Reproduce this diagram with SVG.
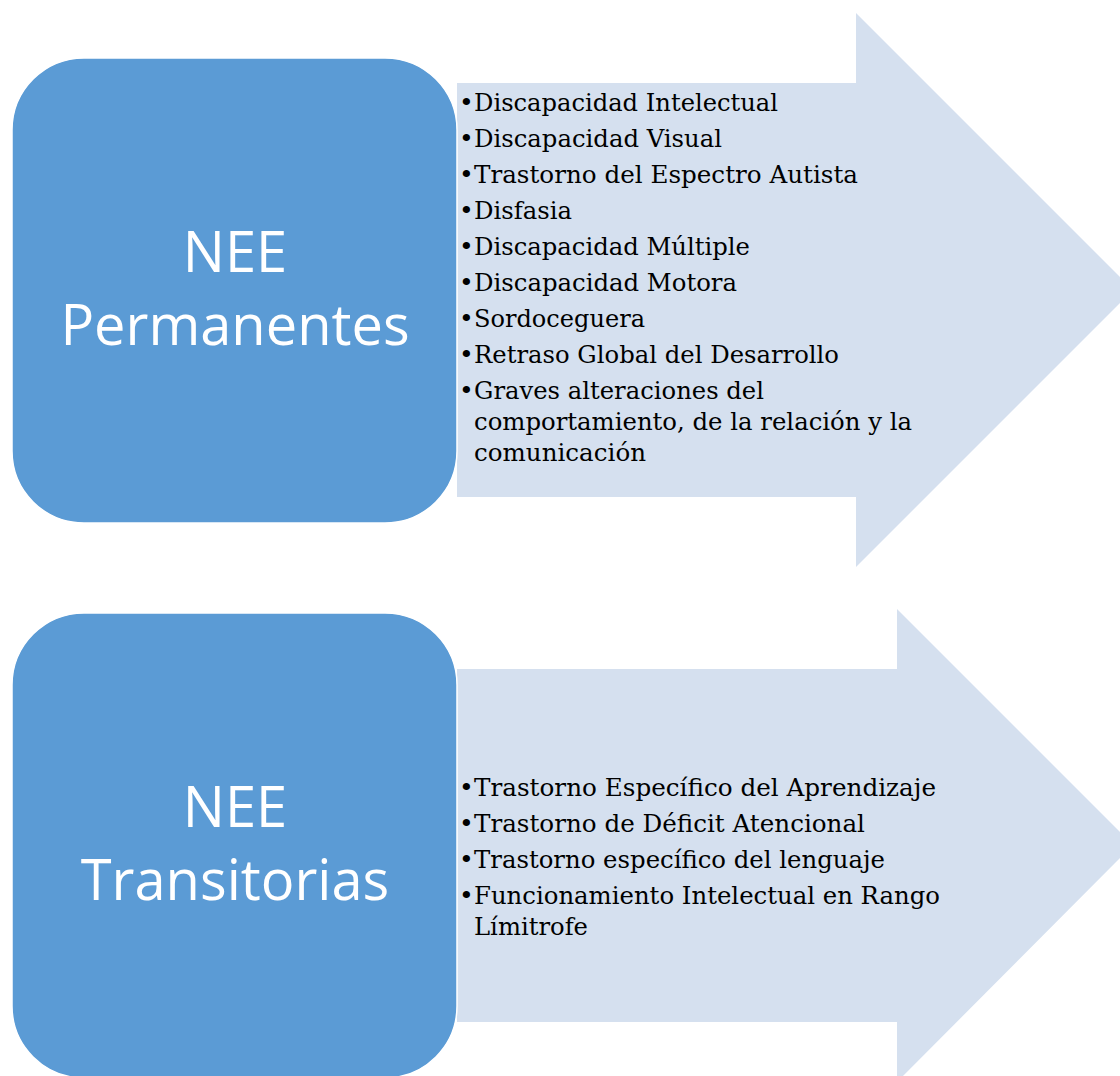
<svg xmlns="http://www.w3.org/2000/svg" width="1120" height="1076" viewBox="0 0 1120 1076">
  <style>
    .arrow { fill: #D5E0EF; }
    .box { fill: #5B9BD5; stroke: #FFFFFF; stroke-width: 1.5; }
    .title { font-family: "Open Sans", "Liberation Sans", sans-serif; font-size: 56px; fill: #FFFFFF; text-anchor: middle; }
    .item { font-family: "DejaVu Serif", "Liberation Serif", serif; font-size: 25px; fill: #000000; }
  </style>
  <rect width="1120" height="1076" fill="#FFFFFF"/>

  <g id="list-permanentes">
    <polygon class="arrow" points="457,83 856,83 856,13 1133,290 856,567 856,497 457,497"/>
    <g class="item">
      <text x="459" y="111">•</text><text x="474" y="111" textLength="304" lengthAdjust="spacingAndGlyphs">Discapacidad Intelectual</text>
      <text x="459" y="147">•</text><text x="474" y="147" textLength="248" lengthAdjust="spacingAndGlyphs">Discapacidad Visual</text>
      <text x="459" y="183">•</text><text x="474" y="183" textLength="384" lengthAdjust="spacingAndGlyphs">Trastorno del Espectro Autista</text>
      <text x="459" y="219">•</text><text x="474" y="219" textLength="98" lengthAdjust="spacingAndGlyphs">Disfasia</text>
      <text x="459" y="255">•</text><text x="474" y="255" textLength="276" lengthAdjust="spacingAndGlyphs">Discapacidad Múltiple</text>
      <text x="459" y="291">•</text><text x="474" y="291" textLength="263" lengthAdjust="spacingAndGlyphs">Discapacidad Motora</text>
      <text x="459" y="327">•</text><text x="474" y="327" textLength="171" lengthAdjust="spacingAndGlyphs">Sordoceguera</text>
      <text x="459" y="363">•</text><text x="474" y="363" textLength="365" lengthAdjust="spacingAndGlyphs">Retraso Global del Desarrollo</text>
      <text x="459" y="399">•</text><text x="474" y="399" textLength="290" lengthAdjust="spacingAndGlyphs">Graves alteraciones del</text>
      <text x="474" y="430" textLength="438" lengthAdjust="spacingAndGlyphs">comportamiento, de la relación y la</text>
      <text x="474" y="461" textLength="172" lengthAdjust="spacingAndGlyphs">comunicación</text>
    </g>
  </g>

  <g id="node-permanentes">
    <rect class="box" x="12" y="58" width="445" height="465" rx="72" ry="72"/>
    <text class="title" x="235" y="272">NEE</text>
    <text class="title" x="235" y="345">Permanentes</text>
  </g>

  <g id="list-transitorias">
    <polygon class="arrow" points="457,669 897,669 897,609 1133,845 897,1082 897,1022 457,1022"/>
    <g class="item">
      <text x="459" y="796">•</text><text x="474" y="796" textLength="462" lengthAdjust="spacingAndGlyphs">Trastorno Específico del Aprendizaje</text>
      <text x="459" y="832">•</text><text x="474" y="832" textLength="391" lengthAdjust="spacingAndGlyphs">Trastorno de Déficit Atencional</text>
      <text x="459" y="868">•</text><text x="474" y="868" textLength="411" lengthAdjust="spacingAndGlyphs">Trastorno específico del lenguaje</text>
      <text x="459" y="904">•</text><text x="474" y="904" textLength="466" lengthAdjust="spacingAndGlyphs">Funcionamiento Intelectual en Rango</text>
      <text x="474" y="935" textLength="114" lengthAdjust="spacingAndGlyphs">Límitrofe</text>
    </g>
  </g>

  <g id="node-transitorias">
    <rect class="box" x="12" y="613" width="445" height="465" rx="72" ry="72"/>
    <text class="title" x="235" y="827">NEE</text>
    <text class="title" x="235" y="900">Transitorias</text>
  </g>

  <g id="connectors"/>
</svg>
